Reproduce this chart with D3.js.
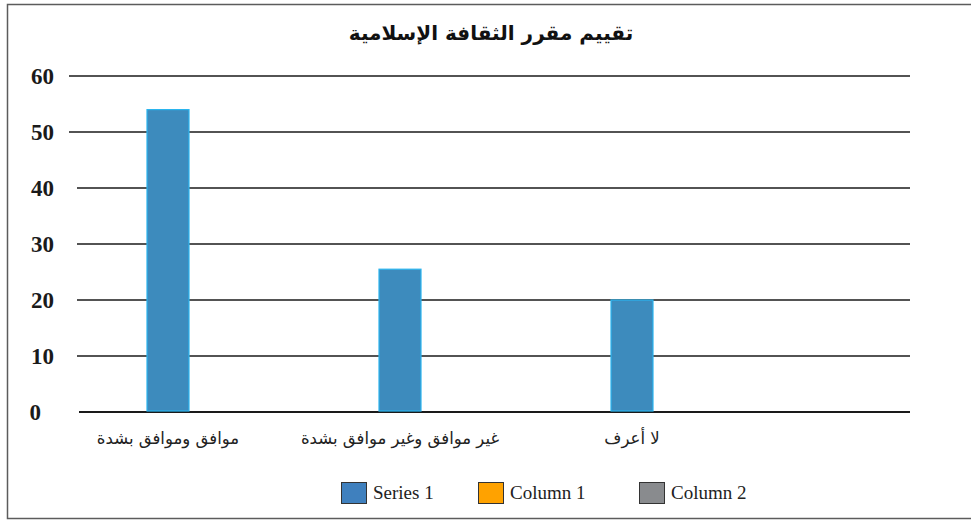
<!DOCTYPE html>
<html>
<head>
<meta charset="utf-8">
<script src="https://cdn.jsdelivr.net/npm/d3@7"></script>
<style>
  html, body { margin: 0; padding: 0; background: #fff; }
  svg { display: block; }
</style>
</head>
<body>
<svg id="chart" width="971" height="523"></svg>
<script>
const title = "تقييم مقرر الثقافة الإسلامية";
const categories = ["موافق وموافق بشدة", "غير موافق وغير موافق بشدة", "لا أعرف"];
const series1 = [54, 25.5, 20];
const yTicks = [0, 10, 20, 30, 40, 50, 60];
const legendNames = ["Series 1", "Column 1", "Column 2"];
const legendColors = ["#3f80be", "#ffa200", "#898b8e"];

const svg = d3.select("#chart");

// outer frame
svg.append("rect")
  .attr("x", 7.5).attr("y", 4.5).attr("width", 980).attr("height", 514)
  .attr("fill", "none").attr("stroke", "#5c5c5c").attr("stroke-width", 1.5);

// title
svg.append("text")
  .attr("x", 491).attr("y", 40)
  .attr("text-anchor", "middle")
  .attr("direction", "rtl")
  .attr("font-family", "'DejaVu Sans', sans-serif")
  .attr("font-weight", "bold")
  .attr("font-size", 20)
  .attr("fill", "#111")
  .text(title);

const y = d3.scaleLinear().domain([0, 60]).range([412, 76]);
const x = d3.scalePoint().domain(categories).range([168, 632]);
const barW = 42;

// gridlines
svg.append("g").selectAll("line").data(yTicks).join("line")
  .attr("x1", d => d === 0 ? 79 : (d >= 50 ? 69 : 77))
  .attr("x2", 910)
  .attr("y1", d => y(d)).attr("y2", d => y(d))
  .attr("stroke", "#1a1a1a")
  .attr("stroke-width", d => d === 0 ? 2 : 1.4);

// y tick labels
svg.append("g").selectAll("text").data(yTicks).join("text")
  .attr("x", d => d === 0 ? 41 : 54)
  .attr("y", d => y(d))
  .attr("dy", "0.35em")
  .attr("text-anchor", "end")
  .attr("font-family", "'Liberation Serif', 'Times New Roman', serif")
  .attr("font-weight", "bold")
  .attr("font-size", 23)
  .attr("fill", "#1a1a1a")
  .text(d => d);

// bars
svg.append("g").selectAll("rect").data(series1).join("rect")
  .attr("x", (d, i) => x(categories[i]) - barW / 2)
  .attr("y", d => y(d))
  .attr("width", barW)
  .attr("height", d => y(0) - y(d) - 1)
  .attr("fill", "#3d8bbd")
  .attr("stroke", "#2bb5ee")
  .attr("stroke-width", 1.2);

// category labels
svg.append("g").selectAll("text").data(categories).join("text")
  .attr("x", d => x(d))
  .attr("y", 444)
  .attr("text-anchor", "middle")
  .attr("direction", "rtl")
  .attr("font-family", "'DejaVu Sans', sans-serif")
  .attr("font-size", 16.5)
  .attr("fill", "#222")
  .text(d => d);

// legend
const legendX = [341, 478, 639];
const lg = svg.append("g");
legendNames.forEach((name, i) => {
  const g = lg.append("g").attr("transform", `translate(${legendX[i]},482)`);
  g.append("rect").attr("x", 0.5).attr("y", 0.5).attr("width", 25).attr("height", 21)
    .attr("fill", legendColors[i]).attr("stroke", "#333").attr("stroke-width", 1);
  g.append("text").attr("x", 32).attr("y", 17)
    .attr("font-family", "'Liberation Serif', 'Times New Roman', serif")
    .attr("font-size", 19).attr("fill", "#222")
    .text(name);
});
</script>
</body>
</html>
